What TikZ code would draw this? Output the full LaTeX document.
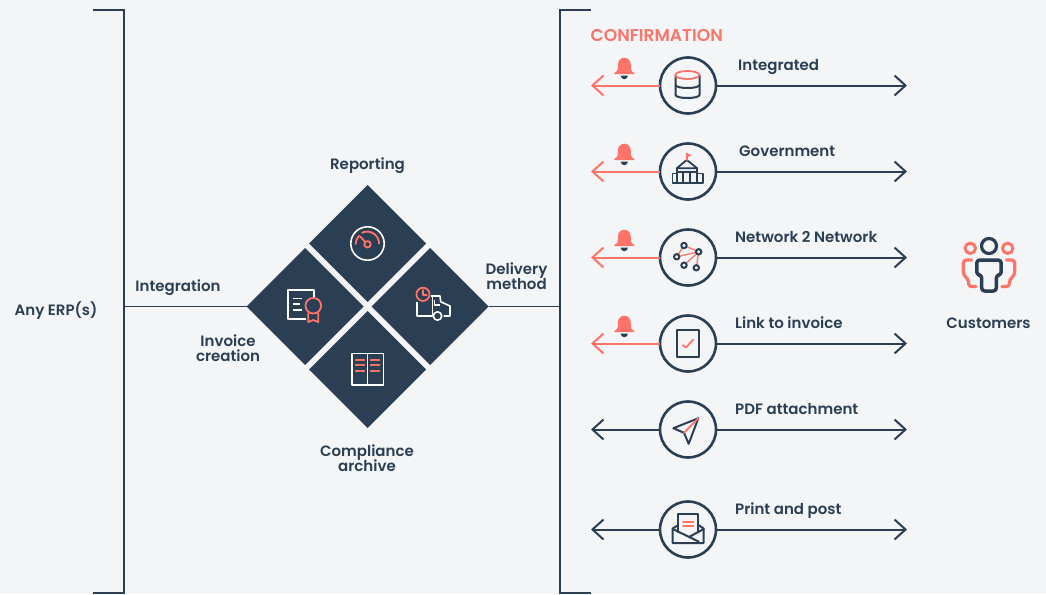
\documentclass[tikz,border=0pt]{standalone}
\usepackage{fontspec}
\setmainfont{Poppins}[UprightFont=* SemiBold,BoldFont=* SemiBold]
\usetikzlibrary{arrows.meta,shapes.geometric}
\definecolor{navy}{HTML}{2A3E54}
\definecolor{coral}{HTML}{FF7369}
\definecolor{pagebg}{HTML}{F4F5F7}
\newcommand{\labelfont}{\fontsize{15}{15}\selectfont\lineskiplimit=-20pt\relax}
\tikzset{
	tile/.style={diamond,aspect=1,fill=navy,minimum width=117pt,minimum height=117pt,inner sep=0pt,outer sep=0pt},
	hub/.style={circle,draw=navy,line width=2.6pt,fill=pagebg,minimum size=56pt,inner sep=0pt,outer sep=0pt},
	caption/.style={text=navy,font=\labelfont,align=center,inner sep=0pt,text height=11pt,text depth=3.5pt},
	rowlabel/.style={caption,anchor=west},
	bar/.style={draw=navy,line width=1.9pt},
	back/.style={line width=2pt,-{Straight Barb[length=11pt,width=20pt,line width=2pt]}},
	darkline/.style={draw=navy,line width=2pt,line join=round,line cap=round},
	redline/.style={draw=coral,line width=1.8pt,line join=round,line cap=round},
	whiteline/.style={draw=white,line width=1.6pt,line join=round},
	bell/.pic={
		\fill[coral] (-10,0) .. controls (-6,-2) and (-6.5,-4) .. (-6.5,-8) .. controls (-6.5,-13) and (-3,-15.3) .. (0,-15.3) .. controls (3,-15.3) and (6.5,-13) .. (6.5,-8) .. controls (6.5,-4) and (6,-2) .. (10,0) -- (10,1) -- (-10,1) -- cycle;
		\fill[navy] (-3.6,2.6) -- (3.6,2.6) arc[start angle=0,end angle=180,radius=3.6] -- cycle;
	}
}
\begin{document}
\begin{tikzpicture}[x=1pt,y=-1pt]
	\useasboundingbox (0,0) rectangle (1046,594);
	\fill[pagebg] (0,0) rectangle (1046,594);
	% brackets
	\draw[bar] (93,10) -- (124,10) -- (124,593) -- (93,593);
	\draw[bar] (591,10) -- (560,10) -- (560,593) -- (591,593);
	\coordinate (leftbar) at (124,306.5);
	\coordinate (rightbar) at (560,306.5);
	% tiles
	\node[tile] (reporting) at (367.5,243.5) {};
	\node[tile] (invoice) at (305,306.5) {};
	\node[tile] (delivery) at (430,306.5) {};
	\node[tile] (archive) at (367.5,369.5) {};
	\draw[bar] (leftbar) -- (invoice.west);
	\draw[bar] (delivery.east) -- (rightbar);
	% gauge
	\draw[whiteline] (reporting.center) circle[radius=16.7];
	\draw[redline] (355.7,244) arc[start angle=180,end angle=225,radius=11.7];
	\draw[redline] (362,232.7) arc[start angle=245,end angle=360,radius=12];
	\draw[redline] (367.5,244.3) circle[radius=3.2];
	\draw[redline] (365.2,242) -- (360.5,236.7);
	% certificate
	\draw[whiteline] (314,297) -- (314,290) -- (287.7,290) -- (287.7,319) -- (305.5,319);
	\draw[whiteline] (293.3,298.3) -- (301.7,298.3) (293.3,304) -- (300,304) (293.3,309.7) -- (301.7,309.7);
	\draw[redline] (313.3,305.7) circle[radius=7.8];
	\draw[redline] (308.3,313) -- (308.3,322) -- (313.3,320) -- (318.3,322) -- (318.3,313);
	% truck
	\draw[whiteline] (416.7,302) -- (416.7,316) -- (432.5,316) (432.5,296) -- (432.5,316);
	\draw[whiteline] (431,296) -- (440,296) -- (440.7,301.7) -- (450,306) -- (450,316) -- (443.5,316);
	\draw[whiteline] (434.5,300) -- (434.5,305) -- (440,305);
	\draw[whiteline] (437.5,316) circle[radius=4.2];
	\draw[redline] (423,294.3) circle[radius=6.6];
	\draw[redline,line width=1.1pt] (423,290) -- (423,295) -- (427,295);
	% book
	\draw[whiteline] (351.7,353.5) rectangle (383.3,385);
	\draw[whiteline] (367.5,353.5) -- (367.5,385);
	\draw[redline] (355.7,360) -- (364.3,360) (355.7,365.3) -- (364.3,365.3) (355.7,370.7) -- (364.3,370.7);
	\draw[redline] (370.7,360) -- (379.3,360) (370.7,365.3) -- (379.3,365.3) (370.7,370.7) -- (379.3,370.7);
	% rows
	\node[hub] (databasehub) at (688,85.5) {};
	\node[hub] (governmenthub) at (688,171.5) {};
	\node[hub] (networkhub) at (688,257.5) {};
	\node[hub] (linkhub) at (688,343.5) {};
	\node[hub] (pdfhub) at (688,429.5) {};
	\node[hub] (posthub) at (688,529.5) {};
	\coordinate (databaseback) at (591,85.5);
	\coordinate (governmentback) at (591,171.5);
	\coordinate (networkback) at (591,257.5);
	\coordinate (linkback) at (591,343.5);
	\coordinate (pdfback) at (591,429.5);
	\coordinate (postback) at (591,529.5);
	\coordinate (databaseout) at (907,85.5);
	\coordinate (governmentout) at (907,171.5);
	\coordinate (networkout) at (907,257.5);
	\coordinate (linkout) at (907,343.5);
	\coordinate (pdfout) at (907,429.5);
	\coordinate (postout) at (907,529.5);
	\draw[back,navy] (databasehub) -- (databaseout);
	\draw[back,navy] (governmenthub) -- (governmentout);
	\draw[back,navy] (networkhub) -- (networkout);
	\draw[back,navy] (linkhub) -- (linkout);
	\draw[back,navy] (pdfhub) -- (pdfout);
	\draw[back,navy] (posthub) -- (postout);
	\draw[back,navy] (pdfhub) -- (pdfback);
	\draw[back,navy] (posthub) -- (postback);
	\draw[back,coral] (databasehub) -- (databaseback);
	\draw[back,coral] (governmenthub) -- (governmentback);
	\draw[back,coral] (networkhub) -- (networkback);
	\draw[back,coral] (linkhub) -- (linkback);
	\pic at (624.3,73) {bell};
	\pic at (624.3,159) {bell};
	\pic at (624.3,245) {bell};
	\pic at (624.3,331) {bell};
	% database
	\draw[darkline] (675.5,75) -- (675.5,95) .. controls (676,99) and (699,99) .. (699.5,95) -- (699.5,75);
	\draw[darkline] (675.5,85) .. controls (676,89) and (699,89) .. (699.5,85);
	\draw[redline] (687.3,75) ellipse[x radius=12,y radius=4];
	% government
	\draw[darkline,line width=1.8pt] (676.7,173.5) -- (672.5,173.5) -- (672.5,183) -- (703,183) -- (703,173.5) -- (697.3,173.5);
	\draw[darkline,line width=1.8pt] (676.7,168.3) -- (686.7,160) -- (697.3,168.3) -- cycle;
	\draw[darkline,line width=1.8pt] (676.7,171.7) -- (697.3,171.7);
	\draw[darkline,line width=1.8pt] (676.7,168.3) -- (676.7,183) (683.3,171.7) -- (683.3,183) (690,171.7) -- (690,183) (697.3,168.3) -- (697.3,183);
	\draw[redline] (686.7,160) -- (686.7,154);
	\fill[coral] (685.8,152.5) -- (691.5,155.3) -- (685.8,158) -- cycle;
	% network
	\draw[redline,line width=1.3pt] (698.7,251.8) -- (684,245.5) -- (676.7,256.8) (698.7,251.8) -- (676.7,256.8) (698.7,251.8) -- (684,265.2) (698.7,251.8) -- (696.3,267.8);
	\draw[darkline,fill=pagebg] (684,245.5) circle[radius=2.7];
	\draw[darkline,fill=pagebg] (676.7,256.8) circle[radius=2.7];
	\draw[darkline,fill=pagebg] (698.7,251.8) circle[radius=2.7];
	\draw[darkline,fill=pagebg] (684,265.2) circle[radius=2.7];
	\draw[darkline,fill=pagebg] (696.3,267.8) circle[radius=2.7];
	% document with check
	\draw[darkline,line cap=butt] (676.7,329.5) rectangle (699.3,356.8);
	\draw[redline] (682.7,345.2) -- (686,347.5) -- (693.3,339.5);
	% paper plane
	\draw[darkline] (698.3,418.2) -- (673.3,428.2) -- (684,432.8) -- (688.7,443.8) -- cycle;
	\draw[redline] (698.3,418.2) -- (684,432.8);
	% envelope
	\draw[darkline] (678.3,532) -- (678.3,514) -- (698.3,514) -- (698.3,532);
	\draw[darkline] (678.3,525) -- (672.7,528.5) -- (672.7,543) -- (703.7,543) -- (703.7,528.5) -- (698.3,525);
	\draw[darkline] (672.7,529) -- (698.5,541.5);
	\draw[darkline] (703.7,529) -- (689,537);
	\draw[redline] (683,521.7) -- (693.3,521.7) (683,526) -- (693.3,526);
	% customers
	\draw[redline,line width=3pt] (970.3,248.3) circle[radius=5.2];
	\draw[redline,line width=3pt] (1007.7,248.3) circle[radius=5.2];
	\draw[redline,line width=3.2pt,rounded corners=3pt] (971.5,260) -- (963.3,260) -- (963.3,275) -- (968.5,279.5) -- (968.5,286.5) -- (976,286.5);
	\draw[redline,line width=3.2pt,rounded corners=3pt] (1006.5,260) -- (1014.7,260) -- (1014.7,275) -- (1009.5,279.5) -- (1009.5,286.5) -- (1002,286.5);
	\draw[navy,line width=3.2pt] (989,246) circle[radius=7.5];
	\draw[navy,line width=3.5pt,line join=round,rounded corners=3pt] (981.7,291) -- (981.7,275) -- (976.8,275) -- (976.8,260) -- (1001.2,260) -- (1001.2,275) -- (996.3,275) -- (996.3,291) -- cycle;
	% labels
	\node[caption] (erp) at (56,311.3) {Any ERP(s)};
	\node[caption] (integration) at (178,287.7) {Integration};
	\node[caption] (creation) at (228,357.5) {Invoice\\creation};
	\node[caption] (reportinglabel) at (367.5,165.7) {Reporting};
	\node[caption] (compliance) at (367,467.5) {Compliance\\archive};
	\node[caption] (method) at (516.5,285.3) {Delivery\\method};
	\node[text=coral,font=\fontsize{17.1}{17}\selectfont,anchor=west,inner sep=0pt] (confirmation) at (590.5,36) {CONFIRMATION};
	\node[rowlabel] (integrated) at (738,66.7) {Integrated};
	\node[rowlabel] (government) at (739,152.7) {Government};
	\node[rowlabel] (network) at (735,238.7) {Network 2 Network};
	\node[rowlabel] (link) at (735,324.7) {Link to invoice};
	\node[rowlabel] (pdf) at (735,410.7) {PDF attachment};
	\node[rowlabel] (post) at (735,510.7) {Print and post};
	\node[caption] (customers) at (988.5,324.7) {Customers};
\end{tikzpicture}
\end{document}
